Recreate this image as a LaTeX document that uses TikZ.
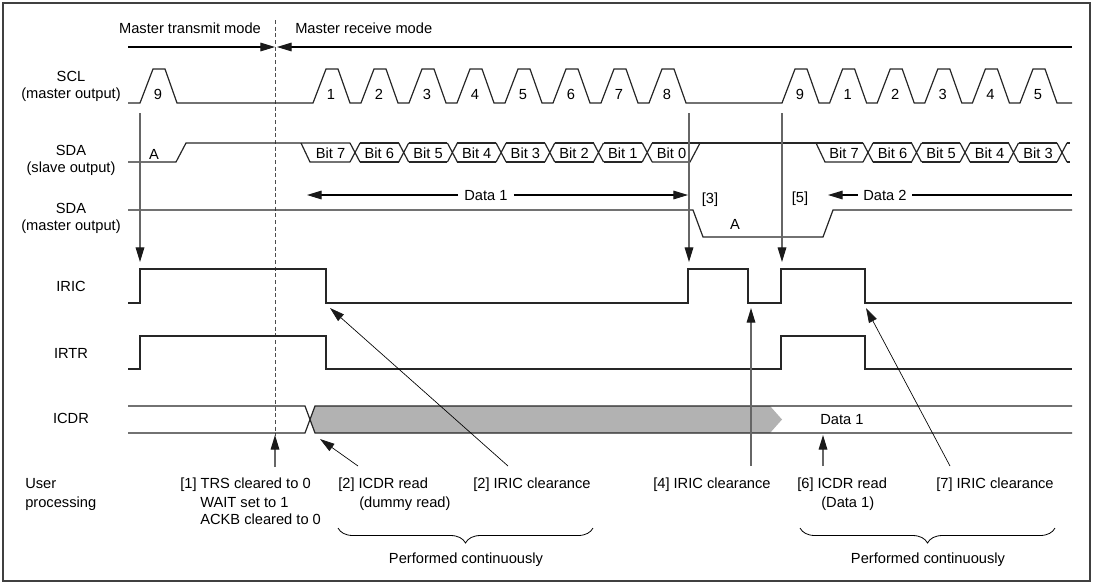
\documentclass[tikz,border=0pt]{standalone}
\usepackage{fontspec}
\setmainfont{Liberation Sans}
\usetikzlibrary{arrows.meta, decorations.pathreplacing}

\tikzset{
  wave/.style={line width=0.9pt, black!85},
  tipped/.style={-{Triangle[length=11pt, width=6.5pt, color=black!90]}},
  event/.style={tipped, line width=0.9pt, black!60},
  pointer/.style={tipped, line width=0.5pt, black},
  groupbrace/.style={decorate, decoration={brace, mirror, amplitude=11.25pt}, line width=0.6pt},
}

\begin{document}
\begin{tikzpicture}[x=0.75pt, y=-0.75pt, font=\fontsize{11}{13}\selectfont,
  every node/.style={inner sep=0pt, text height=7.9pt, text depth=0pt}]
  \useasboundingbox (0,0) rectangle (1094,583);
  \draw[line width=0.8pt, black!75] (3,3) rectangle (1090,581);

  % operating mode
  \node (txmode) at (190,28) {Master transmit mode};
  \node[anchor=west] (rxmode) at (295,28) {Master receive mode};
  \coordinate (modeL) at (128,47);
  \coordinate (modeR) at (1072,47);
  \coordinate (modeswitch) at (275,47);
  \coordinate (modeswitchR) at (277,47);
  \draw[tipped, line width=0.8pt] (modeL) -- (modeswitch);
  \draw[tipped, line width=0.8pt] (modeR) -- (modeswitchR);
  \draw[black!70, line width=0.7pt, dash pattern=on 3pt off 2pt] (275,20) -- (275,436);

  % signal names
  \node (sclname) at (71,76) {SCL};
  \node (sclsub) at (71,93) {(master output)};
  \node (sdasname) at (71,150) {SDA};
  \node (sdassub) at (71,167) {(slave output)};
  \node (sdamname) at (71,208) {SDA};
  \node (sdamsub) at (71,225) {(master output)};
  \node (iricname) at (71,286) {IRIC};
  \node (irtrname) at (71,353) {IRTR};
  \node (icdrname) at (71,418) {ICDR};
  \node[anchor=west] (username) at (25,483) {User};
  \node[anchor=west] (usersub) at (25,502) {processing};

  % SCL (master output)
  \draw[wave] (128,103) -- (140,103) -- ++(13,-34) -- ++(12,0) -- ++(12,34) -- (313,103)
    \foreach \k in {1,...,8} { -- ++(13,-34) -- ++(12,0) -- ++(12,34) -- ++(11,0) }
    -- (782,103)
    \foreach \k in {1,...,6} { -- ++(13,-34) -- ++(12,0) -- ++(12,34) -- ++(10.6,0) }
    -- (1072,103);
  \node (clk9) at (158,94) {9};
  \foreach \n [count=\k from 0] in {1,...,8}
    \node (clka\n) at (331+48*\k,94) {\n};
  \foreach \n [count=\k from 0] in {9,1,2,3,4,5}
    \node (clkb\k) at (800+47.6*\k,94) {\n};

  % SDA (slave output)
  \draw[wave] (128,162) -- (176,162) -- (186,143) -- (350,143);
  \node (acks) at (154,154) {A};
  \draw[wave] (301,143) -- (310,162) -- (350,162);
  \foreach \k in {0,...,6} {
    \pgfmathsetmacro\c{355+48.7*\k}
    \draw[wave] (\c-5,143) -- (\c+5,162) (\c-5,162) -- (\c+5,143);
  }
  \foreach \k in {0,...,5} {
    \pgfmathsetmacro\c{355+48.7*\k}
    \draw[wave] (\c+5,143) -- (\c+43.7,143) (\c+5,162) -- (\c+43.7,162);
  }
  \draw[wave] (652.2,162) -- (690,162) -- (700,143);
  \draw[wave] (652.2,143) -- (863,143);
  \draw[wave] (816,143) -- (825,162) -- (863,162);
  \foreach \k in {0,...,4} {
    \pgfmathsetmacro\c{868+48.5*\k}
    \draw[wave] (\c-5,143) -- (\c+5,162) (\c-5,162) -- (\c+5,143);
  }
  \foreach \k in {0,...,3} {
    \pgfmathsetmacro\c{868+48.5*\k}
    \draw[wave] (\c+5,143) -- (\c+43.5,143) (\c+5,162) -- (\c+43.5,162);
  }
  \draw[wave] (1067,143) -- (1070,143) (1067,162) -- (1070,162);
  \foreach \b [count=\k from 0] in {7,6,5,4,3,2,1,0}
    \node (bita\b) at (330.6+48.7*\k,153) {Bit \b};
  \foreach \b [count=\k from 0] in {7,6,5,4,3}
    \node (bitb\b) at (844+48.5*\k,153) {Bit \b};

  % data direction
  \node[inner xsep=4.5pt] (data1) at (486,195) {Data 1};
  \coordinate (data1L) at (307,195);
  \coordinate (data1R) at (688,195);
  \draw[tipped, line width=0.8pt] (data1.west) -- (data1L);
  \draw[tipped, line width=0.8pt] (data1.east) -- (data1R);
  \node[inner xsep=4pt] (data2) at (885,195) {Data 2};
  \coordinate (data2L) at (828,195);
  \coordinate (data2R) at (1072,195);
  \draw[tipped, line width=0.8pt] (data2.west) -- (data2L);
  \draw[line width=0.8pt] (data2.east) -- (data2R);
  \node (step3) at (710,198) {[3]};
  \node (step5) at (800,197) {[5]};

  % SDA (master output)
  \draw[wave] (128,210) -- (693,210) -- (703,237) -- (823,237) -- (833,210) -- (1072,210);
  \node (ackm) at (735,224) {A};

  % IRIC and IRTR
  \draw[wave] (128,303) -- (140,303) -- (140,269) -- (326,269) -- (326,303) -- (688,303)
    -- (688,269) -- (748,269) -- (748,303) -- (781,303) -- (781,269) -- (865,269)
    -- (865,303) -- (1072,303);
  \draw[wave] (128,369) -- (140,369) -- (140,336) -- (326,336) -- (326,369) -- (781,369)
    -- (781,336) -- (865,336) -- (865,369) -- (1072,369);

  % flags set by SCL edges
  \foreach \x/\id in {140/a, 689/b, 782/c} {
    \coordinate (sclev\id) at (\x,113);
    \coordinate (iricev\id) at (\x,262);
    \draw[event] (sclev\id) -- (iricev\id);
  }

  % ICDR
  \fill[black!30] (310,419.5) -- (315,406) -- (770,406) -- (782,419.5) -- (770,433) -- (315,433) -- cycle;
  \draw[wave] (128,406) -- (305,406) -- (315,433) -- (1072,433);
  \draw[wave] (128,433) -- (305,433) -- (315,406) -- (1072,406);
  \node (icdrdata) at (842,419) {Data 1};

  % user processing
  \node[anchor=west] (u1) at (180,483) {[1] TRS cleared to 0};
  \node[anchor=west] (u1b) at (200,502) {WAIT set to 1};
  \node[anchor=west] (u1c) at (200,519) {ACKB cleared to 0};
  \node[anchor=west] (u2) at (338,483) {[2] ICDR read};
  \node[anchor=west] (u2b) at (359,502) {(dummy read)};
  \node[anchor=west] (u3) at (473,483) {[2] IRIC clearance};
  \node[anchor=west] (u4) at (653,483) {[4] IRIC clearance};
  \node[anchor=west] (u6) at (797,483) {[6] ICDR read};
  \node[anchor=west] (u6b) at (821,502) {(Data 1)};
  \node[anchor=west] (u7) at (936,483) {[7] IRIC clearance};

  \coordinate (u1top) at (275,467);   \coordinate (u1tip) at (275,435);
  \coordinate (u2top) at (358,466);   \coordinate (u2tip) at (320,439);
  \coordinate (u3top) at (508,466);   \coordinate (u3tip) at (330,308);
  \coordinate (u4top) at (751,466);   \coordinate (u4tip) at (751,308);
  \coordinate (u6top) at (823,466);   \coordinate (u6tip) at (823,435);
  \coordinate (u7top) at (950,466);   \coordinate (u7tip) at (866,308);
  \draw[event] (u1top) -- (u1tip);
  \draw[pointer] (u2top) -- (u2tip);
  \draw[pointer] (u3top) -- (u3tip);
  \draw[event] (u4top) -- (u4tip);
  \draw[event] (u6top) -- (u6tip);
  \draw[pointer] (u7top) -- (u7tip);

  % grouped steps
  \coordinate (grp1L) at (338,528);  \coordinate (grp1R) at (593,528);
  \coordinate (grp2L) at (800,528);  \coordinate (grp2R) at (1055,528);
  \draw[groupbrace] (grp1L) -- (grp1R);
  \draw[groupbrace] (grp2L) -- (grp2R);
  \node (cont1) at (466,558) {Performed continuously};
  \node (cont2) at (928,558) {Performed continuously};
\end{tikzpicture}
\end{document}
